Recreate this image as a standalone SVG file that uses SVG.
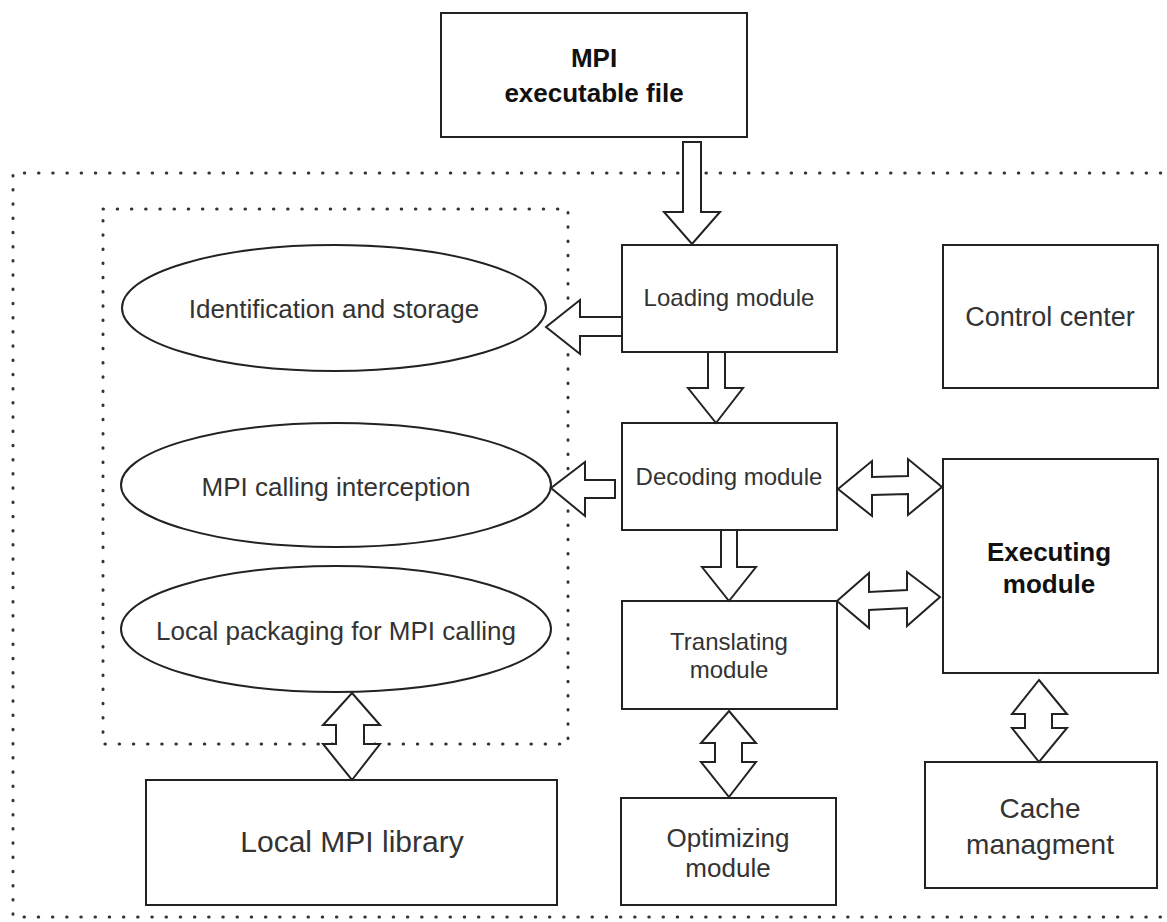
<svg xmlns="http://www.w3.org/2000/svg" width="1167" height="922" viewBox="0 0 1167 922">
<style>
.box{fill:#fff;stroke:#222;stroke-width:2}
.ell{fill:#fff;stroke:#222;stroke-width:2}
.arr{fill:#fff;stroke:#222;stroke-width:2;stroke-linejoin:miter}
.dot{fill:none;stroke:#333;stroke-width:3;stroke-linecap:round;stroke-dasharray:0.5 13.7}
.t{font-family:"Liberation Sans",Arial,sans-serif;fill:#333;text-anchor:middle}
.b{font-family:"Liberation Sans",Arial,sans-serif;fill:#111;font-weight:bold;text-anchor:middle}
</style>
<rect width="1167" height="922" fill="#fff"/>
<g id="system-boundary">
<path class="dot" d="M1175,173 H13 V917 H1175"/>
</g>
<g id="interception-group">
<rect class="dot" x="103" y="209" width="465" height="535"/>
</g>
<g id="mpi-executable">
<rect class="box" x="441" y="13" width="306" height="124"/>
<text class="b" x="594" y="67" font-size="26">MPI</text>
<text class="b" x="594" y="102" font-size="26">executable file</text>
</g>
<g id="loading-module">
<rect class="box" x="622" y="245" width="215" height="107"/>
<text class="t" x="729" y="306" font-size="24">Loading module</text>
</g>
<g id="decoding-module">
<rect class="box" x="622" y="423" width="215" height="107"/>
<text class="t" x="729" y="485" font-size="24">Decoding module</text>
</g>
<g id="translating-module">
<rect class="box" x="622" y="601" width="215" height="108"/>
<text class="t" x="729" y="650" font-size="24">Translating</text>
<text class="t" x="729" y="678" font-size="24">module</text>
</g>
<g id="optimizing-module">
<rect class="box" x="621" y="798" width="215" height="107"/>
<text class="t" x="728" y="847" font-size="26">Optimizing</text>
<text class="t" x="728" y="877" font-size="26">module</text>
</g>
<g id="control-center">
<rect class="box" x="943" y="245" width="215" height="143"/>
<text class="t" x="1050" y="326" font-size="27">Control center</text>
</g>
<g id="executing-module">
<rect class="box" x="943" y="459" width="215" height="214"/>
<text class="b" x="1049" y="561" font-size="26">Executing</text>
<text class="b" x="1049" y="593" font-size="26">module</text>
</g>
<g id="cache-management">
<rect class="box" x="925" y="762" width="232" height="126"/>
<text class="t" x="1040" y="818" font-size="28">Cache</text>
<text class="t" x="1040" y="854" font-size="28">managment</text>
</g>
<g id="local-mpi-library">
<rect class="box" x="146" y="780" width="411" height="125"/>
<text class="t" x="352" y="852" font-size="30">Local MPI library</text>
</g>
<g id="identification-storage">
<ellipse class="ell" cx="334" cy="308" rx="212" ry="63"/>
<text class="t" x="334" y="318" font-size="26">Identification and storage</text>
</g>
<g id="mpi-calling-interception">
<ellipse class="ell" cx="336" cy="485" rx="215" ry="62"/>
<text class="t" x="336" y="496" font-size="26">MPI calling interception</text>
</g>
<g id="local-packaging">
<ellipse class="ell" cx="336" cy="629" rx="215" ry="63"/>
<text class="t" x="336" y="640" font-size="26">Local packaging for MPI calling</text>
</g>
<g id="connectors">
<polygon class="arr" points="683,142 701,142 701,212 720,212 692,244 664,212 683,212"/>
<polygon class="arr" points="622,317 580,317 580,300 546,327 580,354 580,336 622,336"/>
<polygon class="arr" points="708,352 725,352 725,388 743,388 716,423 688,388 708,388"/>
<polygon class="arr" points="615,480 585,480 585,462 551,488 585,516 585,498 615,498"/>
<polygon class="arr" points="721,530 737,530 737,567 756,567 729,601 702,567 721,567"/>
<polygon class="arr" points="838,489 872,461 872,477 908,476 908,459 942,487 908,515 908,494 872,495 872,516"/>
<polygon class="arr" points="837,601 869,573 869,592 907,590 907,572 940,597 907,626 907,608 869,610 869,628"/>
<polygon class="arr" points="729,711 756,743 742,743 742,762 756,762 729,797 701,762 715,762 715,743 701,743"/>
<polygon class="arr" points="1039,680 1067,714 1052,714 1052,728 1067,728 1039,762 1012,728 1025,728 1025,714 1012,714"/>
<polygon class="arr" points="352,693 380,725 364,725 364,744 380,744 352,780 323,744 336,744 336,725 323,725"/>
</g>
</svg>
